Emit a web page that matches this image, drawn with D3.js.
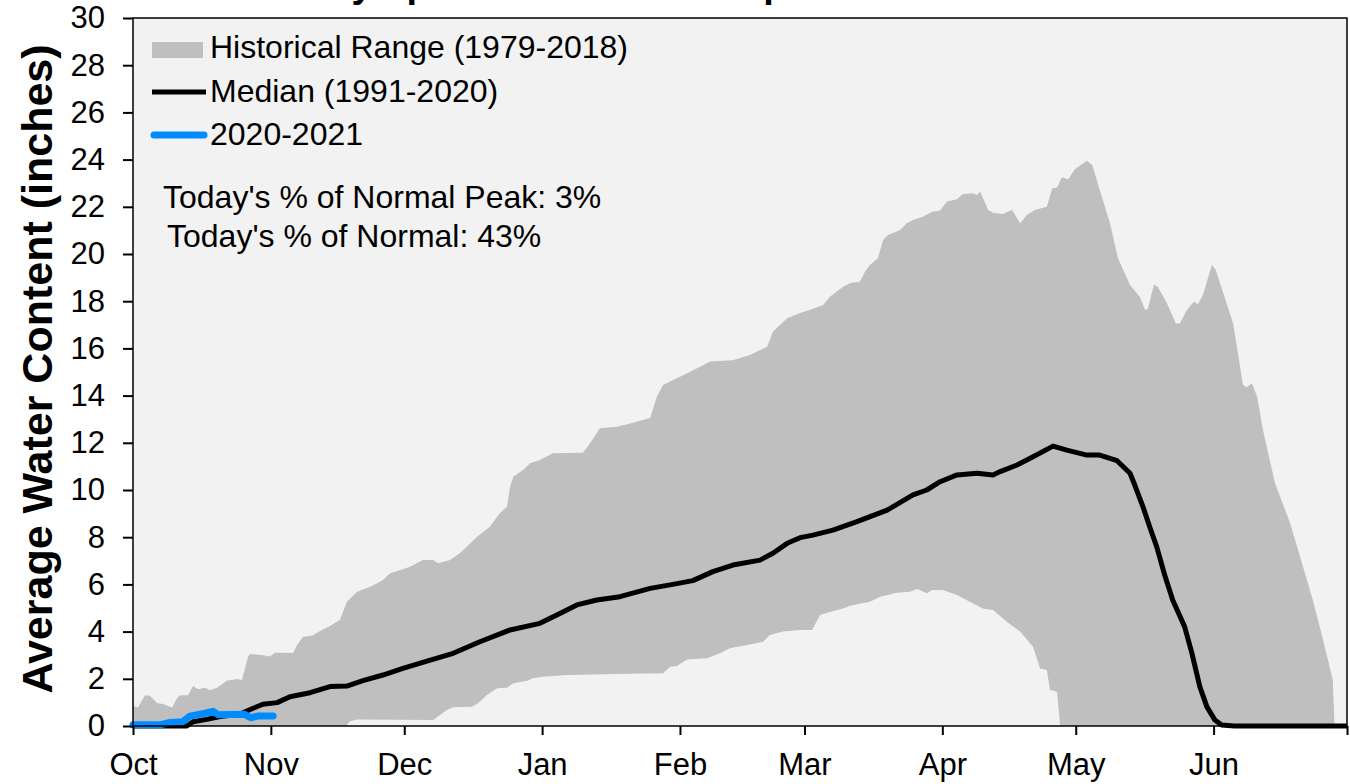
<!DOCTYPE html>
<html>
<head>
<meta charset="utf-8">
<script src="https://cdn.jsdelivr.net/npm/d3@7"></script>
<style>
  body { margin: 0; background: #fff; }
  text { font-family: Arial, "Liberation Sans", sans-serif; }
</style>
</head>
<body>
<div id="chart"></div>
<script>
// days since Oct 1 (water year), inches
var histMax = [[0,0.85],[1.1,0.78],[2.7,1.3],[3.8,1.28],[5.4,0.97],[6.7,0.93],[8.8,0.78],[9.9,1.18],[10.6,1.3],[12.4,1.3],
  [13.5,1.7],[14.6,1.56],[16.2,1.62],[17.3,1.52],[18.9,1.62],[21.1,1.92],[23.4,1.99],[24.5,1.95],[25.9,2.94],[26.3,3.05],
  [29,3.01],[30.8,2.94],[31.9,3.1],[33.7,3.1],[36,3.09],[36.9,3.43],[38.2,3.77],[40.3,3.83],[42.5,4.07],[44.3,4.24],
  [46.5,4.49],[48.1,5.27],[50.4,5.69],[53.3,5.9],[54.9,6.05],[56.2,6.19],[57.8,6.47],[60,6.6],[62.3,6.75],[65.2,7.03],
  [67.5,7.03],[68.6,6.9],[71.3,7.03],[73.5,7.32],[77.4,8.02],[80.3,8.45],[82.5,9.02],[84.1,9.29],[84.8,10.14],[85.5,10.56],
  [87.7,10.85],[89.3,11.13],[91.5,11.27],[94.4,11.56],[101.2,11.58],[102.8,11.98],[105,12.62],[108.8,12.68],[111.8,12.82],[116.3,13.05],
  [117.8,13.95],[119.2,14.45],[122.3,14.74],[125.3,15.01],[129.8,15.44],[134.9,15.5],[138.7,15.72],[142.6,16.07],[143.9,16.71],[147.1,17.28],
  [150,17.5],[152.2,17.63],[155.2,17.84],[156.7,18.19],[159.7,18.61],[161.2,18.76],[163.5,18.83],[164.6,19.25],[165.7,19.53],[167.5,19.82],
  [168.7,20.6],[169.8,20.8],[172.5,21.02],[174,21.3],[175.4,21.44],[177.6,21.58],[179.7,21.79],[181.5,21.84],[183,22.22],[185.3,22.32],
  [186.6,22.54],[188.9,22.57],[189.8,22.5],[190.5,22.65],[192.3,21.86],[193.4,21.75],[195.6,21.69],[197.7,21.86],[199.5,21.3],[201,21.65],
  [202.8,21.86],[205.5,22],[206.7,22.78],[207.8,22.82],[208.9,23.25],[210.3,23.17],[211.8,23.59],[214.5,23.95],[215.7,23.77],[217.4,22.71],
  [219.7,21.3],[221.5,19.82],[224.2,18.69],[226.4,18.19],[227.6,17.63],[228.2,17.67],[229.6,18.71],[230.5,18.59],[232.5,17.91],[234.5,17.06],
  [235.4,17.06],[237,17.63],[238.6,17.98],[239.5,17.87],[240.6,18.26],[242.6,19.53],[243.5,19.32],[244.7,18.61],[247.4,17.06],[249.6,14.45],
  [250.5,14.35],[251.6,14.52],[252.8,13.95],[254.1,12.54],[256.8,10.3],[260.2,8.6],[262.4,7.2],[265.3,5.34],[266.9,4.2],[269.1,2.5],
  [269.8,1.95],[270.2,0],[273,0]];

var histMin = [[0,0],[47.9,0],[48.8,0.2],[50.4,0.28],[67.5,0.25],[68.6,0.4],[70.6,0.68],[72,0.79],[76.2,0.82],[77.6,0.96],
  [79.6,1.31],[81.9,1.6],[84.1,1.62],[85.5,1.81],[88.6,1.92],[89.9,2.02],[92.2,2.09],[97.6,2.16],[108.8,2.2],[119.2,2.23],
  [120.8,2.51],[122.3,2.54],[124.6,2.82],[129.1,2.87],[132,3.08],[134.2,3.29],[138.1,3.43],[141.7,3.57],[143.2,3.86],[146.2,4],
  [150,4.07],[152.7,4.07],[154.5,4.7],[156.1,4.8],[159.7,4.98],[161.2,5.1],[165.7,5.27],[168,5.48],[171.8,5.65],[174.7,5.69],
  [176.3,5.8],[178.5,5.62],[179.7,5.76],[182.1,5.76],[185.3,5.55],[188.2,5.27],[191.1,4.98],[193.4,4.92],[196.5,4.42],[199.5,4],
  [202.4,3.36],[204,2.44],[205.5,2.37],[206.2,1.53],[207.8,1.45],[208.5,0],[273,0]];

var median = [[0,0],[12.1,0],[13.5,0.18],[16.6,0.28],[19.6,0.4],[24.1,0.51],[27,0.75],[29.2,0.92],[32.4,0.99],[35.3,1.24],
  [39.8,1.41],[44.3,1.67],[48.1,1.69],[51.7,1.92],[56.2,2.16],[60.7,2.44],[66.1,2.75],[72,3.08],[78,3.57],[84.8,4.07],
  [91.5,4.35],[96,4.77],[99.8,5.13],[104.3,5.34],[109.5,5.48],[116.3,5.83],[121.4,6],[125.9,6.16],[130.4,6.54],[134.9,6.82],
  [141,7.03],[143.9,7.32],[147.1,7.74],[150,7.98],[152.9,8.09],[157.4,8.3],[162.8,8.66],[169.6,9.15],[175.4,9.79],[178.5,10],
  [181.5,10.35],[185.3,10.64],[189.8,10.71],[193.4,10.64],[195,10.78],[198.8,11.06],[202.4,11.41],[206.9,11.86],[210,11.69],[214.5,11.48],
  [217.4,11.48],[221.3,11.24],[224.2,10.71],[225.3,10.2],[227.1,9.3],[228.7,8.4],[230.2,7.6],[232,6.4],[233.8,5.34],[236.5,4.2],
  [238.1,3.1],[239.9,1.67],[241.5,0.81],[243.3,0.25],[244.8,0.04],[247.7,0],[273,0]];

var current = [[0,0.05],[6.1,0.05],[8.3,0.15],[11.2,0.18],[12.8,0.42],[15.7,0.52],[18,0.62],[19.1,0.48],[25,0.5],[26.5,0.35],
  [28,0.42],[31.5,0.42]];

var monthLabels = ["Oct", "Nov", "Dec", "Jan", "Feb", "Mar", "Apr", "May", "Jun", ""];
var yTicks = d3.range(0, 31, 2);
var legendItems = ["Historical Range (1979-2018)", "Median (1991-2020)", "2020-2021"];
var notes = ["Today's % of Normal Peak: 3%", "Today's % of Normal: 43%"];
var title = "Olympic Peninsula Snowpack Water Content";

var width = 1350, height = 784;
var margin = { top: 18, right: 3, bottom: 58, left: 133 };
var chartWidth = width - margin.left - margin.right;
var chartHeight = height - margin.top - margin.bottom;

var start = Date.UTC(2020, 9, 1);
var end = Date.UTC(2021, 6, 1);
function toDate(day) { return new Date(start + day * 864e5); }

var svg = d3.select("#chart").append("svg")
    .attr("width", width)
    .attr("height", height);

var chartGroup = svg.append("g")
    .attr("transform", `translate(${margin.left}, ${margin.top})`);

var xScale = d3.scaleUtc()
    .domain([new Date(start), new Date(end)])
    .range([0, chartWidth]);

var yScale = d3.scaleLinear()
    .domain([0, 30])
    .range([chartHeight, 0]);

chartGroup.append("rect")
    .attr("width", chartWidth)
    .attr("height", chartHeight)
    .attr("fill", "#f2f2f2");

var area = d3.area()
    .x(d => xScale(toDate(d[0])))
    .y0(yScale(0))
    .y1(d => yScale(d[1]));

chartGroup.append("path")
    .datum(histMax)
    .attr("d", area)
    .attr("fill", "#bfbfbf");

chartGroup.append("path")
    .datum(histMin)
    .attr("d", area)
    .attr("fill", "#f2f2f2");

var line = d3.line()
    .x(d => xScale(toDate(d[0])))
    .y(d => yScale(d[1]));

chartGroup.append("path")
    .datum(median)
    .attr("d", line)
    .attr("fill", "none")
    .attr("stroke", "#000")
    .attr("stroke-width", 5)
    .attr("stroke-linejoin", "round");

chartGroup.append("path")
    .datum(current)
    .attr("d", line)
    .attr("fill", "none")
    .attr("stroke", "#008cff")
    .attr("stroke-width", 7)
    .attr("stroke-linejoin", "round")
    .attr("stroke-linecap", "round");

// frame
chartGroup.append("rect")
    .attr("width", chartWidth)
    .attr("height", chartHeight)
    .attr("fill", "none")
    .attr("stroke", "#000")
    .attr("stroke-width", 1.5);

var months = d3.utcMonth.range(new Date(start), new Date(end + 1));
var bottomAxis = d3.axisBottom(xScale)
    .tickValues(months)
    .tickSize(9)
    .tickSizeOuter(0)
    .tickPadding(18)
    .tickFormat((d, i) => monthLabels[i]);

var leftAxis = d3.axisLeft(yScale)
    .tickValues(yTicks)
    .tickSize(10)
    .tickSizeOuter(0)
    .tickPadding(18);

var xg = chartGroup.append("g")
    .attr("transform", `translate(0, ${chartHeight})`)
    .call(bottomAxis);
var yg = chartGroup.append("g")
    .call(leftAxis);

[xg, yg].forEach(function(g) {
    g.select(".domain").remove();
    g.selectAll("line").attr("stroke", "#000").attr("stroke-width", 2);
    g.selectAll("text").attr("font-size", 31).attr("fill", "#000")
        .style("font-family", "Arial, 'Liberation Sans', sans-serif");
});

// legend
var legend = chartGroup.append("g");
legend.append("rect")
    .attr("x", 19).attr("y", 24)
    .attr("width", 51).attr("height", 16)
    .attr("fill", "#bfbfbf");
legend.append("line")
    .attr("x1", 19).attr("x2", 73).attr("y1", 74).attr("y2", 74)
    .attr("stroke", "#000").attr("stroke-width", 5);
legend.append("line")
    .attr("x1", 21).attr("x2", 71).attr("y1", 117).attr("y2", 117)
    .attr("stroke", "#008cff").attr("stroke-width", 7).attr("stroke-linecap", "round");
legend.selectAll("text.leg")
    .data(legendItems)
    .enter()
    .append("text")
    .attr("class", "leg")
    .attr("x", 77)
    .attr("y", (d, i) => 40 + i * 43.5)
    .attr("font-size", 32)
    .text(d => d);

chartGroup.selectAll("text.note")
    .data(notes)
    .enter()
    .append("text")
    .attr("class", "note")
    .attr("x", (d, i) => 30 + i * 4)
    .attr("y", (d, i) => 190 + i * 39)
    .attr("font-size", 32)
    .text(d => d);

svg.append("text")
    .attr("transform", "translate(52, 369) rotate(-90)")
    .attr("text-anchor", "middle")
    .attr("font-size", 43)
    .attr("font-weight", "bold")
    .text("Average Water Content (inches)");

svg.append("text")
    .attr("x", 715)
    .attr("y", -3)
    .attr("text-anchor", "middle")
    .attr("font-size", 38)
    .attr("font-weight", "bold")
    .text(title);
</script>
</body>
</html>
